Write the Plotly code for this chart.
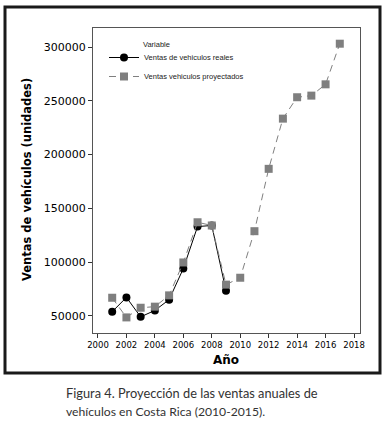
import plotly.graph_objects as go

years_real = [2001, 2002, 2003, 2004, 2005, 2006, 2007, 2008, 2009]
ventas_reales = [53800, 67100, 49000, 55000, 65000, 94000, 133000, 134000, 73300]

years_proj = [2001, 2002, 2003, 2004, 2005, 2006, 2007, 2008, 2009, 2010,
              2011, 2012, 2013, 2014, 2015, 2016, 2017]
ventas_proyectadas = [66800, 48500, 57500, 58500, 69000, 99600, 137000, 134000, 79000, 85400,
                      128700, 186700, 233400, 253300, 254800, 265300, 303100]

x_ticks = [2000, 2002, 2004, 2006, 2008, 2010, 2012, 2014, 2016, 2018]
y_ticks = [50000, 100000, 150000, 200000, 250000, 300000]

W, H = 391, 425
L, R, T, B = 93, 31, 28, 92
pw, ph = W - L - R, H - T - B

def px(x):
    return (x - L) / pw

def py(y):
    return (H - B - y) / ph

fig = go.Figure()
fig.add_trace(go.Scatter(
    x=years_real, y=ventas_reales, mode="lines+markers",
    name="Ventas de vehiculos reales",
    line=dict(color="black", width=1),
    marker=dict(symbol="circle", size=8, color="black"),
))
fig.add_trace(go.Scatter(
    x=years_proj, y=ventas_proyectadas, mode="lines+markers",
    name="Ventas vehiculos proyectados",
    line=dict(color="#7f7f7f", width=1, dash="7px,5px"),
    marker=dict(symbol="square", size=8, color="#7f7f7f"),
))

fig.update_layout(
    width=W, height=H,
    margin=dict(l=L, r=R, t=T, b=B),
    paper_bgcolor="white", plot_bgcolor="white",
    showlegend=True,
    legend=dict(x=px(104), y=py(43), xanchor="left", yanchor="top",
                bgcolor="rgba(0,0,0,0)",
                font=dict(family="Liberation Sans, Arial, sans-serif", size=7.5, color="#222"),
                itemwidth=30),
    font=dict(family="DejaVu Sans, Verdana, sans-serif", color="black"),
)
fig.update_xaxes(
    range=[1999.65, 2018.42], tickmode="array", tickvals=x_ticks,
    ticks="outside", ticklen=4, tickcolor="#333",
    showline=True, linecolor="#555", linewidth=1, mirror=True,
    showgrid=False, zeroline=False,
    tickfont=dict(size=8.5, family="DejaVu Sans, Verdana, sans-serif"),
)
fig.update_yaxes(
    range=[34000, 317700], tickmode="array", tickvals=y_ticks, tickformat="d",
    ticks="outside", ticklen=4, tickcolor="#333",
    showline=True, linecolor="#555", linewidth=1, mirror=True,
    showgrid=False, zeroline=False,
    tickfont=dict(size=11, family="DejaVu Sans, Verdana, sans-serif"),
)

# outer black frame
fig.add_shape(type="rect", xref="paper", yref="paper",
              x0=px(5), x1=px(380), y0=py(373), y1=py(7),
              line=dict(color="#1a1a1a", width=3))

ann = [
    dict(text="<b>Ventas de vehículos (unidades)</b>", x=px(27), y=py(180), textangle=-90,
         font=dict(size=11.5, family="DejaVu Sans, Verdana, sans-serif", color="black")),
    dict(text="<b>Año</b>", x=px(226), y=py(360),
         font=dict(size=12, family="DejaVu Sans, Verdana, sans-serif", color="black")),
    dict(text="Variable", x=px(141), y=py(44), xanchor="left",
         font=dict(size=7.5, family="Liberation Sans, Arial, sans-serif", color="#222")),
    dict(text="Figura 4. Proyección de las ventas anuales de", x=px(64), y=py(393), xanchor="left",
         font=dict(size=12.8, family="Lato, sans-serif", color="#333")),
    dict(text="vehículos en Costa Rica (2010-2015).", x=px(64), y=py(412), xanchor="left",
         font=dict(size=12.2, family="Lato, sans-serif", color="#333")),
]
for a in ann:
    a.setdefault("xanchor", "center")
    fig.add_annotation(xref="paper", yref="paper", showarrow=False, yanchor="middle", **a)

fig.write_html("out.html", config={"displayModeBar": False})

# remove default page margin so the figure sits at the top-left corner
with open("out.html", "r", encoding="utf-8") as f:
    html = f.read()
html = html.replace("<body>", '<body style="margin:0;padding:0;overflow:hidden">', 1)
with open("out.html", "w", encoding="utf-8") as f:
    f.write(html)
